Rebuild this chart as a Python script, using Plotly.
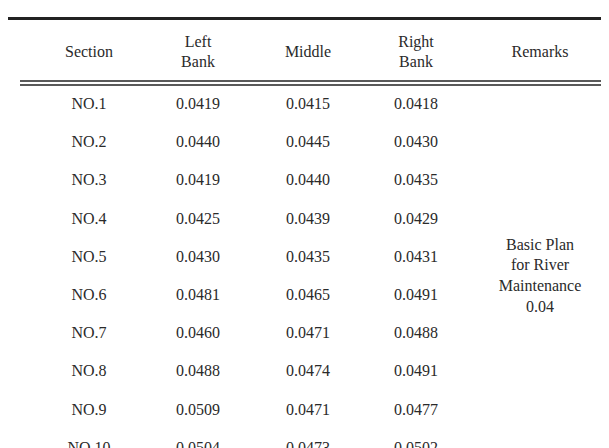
import plotly.graph_objects as go

sections = ["NO.1","NO.2","NO.3","NO.4","NO.5","NO.6","NO.7","NO.8","NO.9","NO.10"]
left_bank = ["0.0419","0.0440","0.0419","0.0425","0.0430","0.0481","0.0460","0.0488","0.0509","0.0504"]
middle = ["0.0415","0.0445","0.0440","0.0439","0.0435","0.0465","0.0471","0.0474","0.0471","0.0473"]
right_bank = ["0.0418","0.0430","0.0435","0.0429","0.0431","0.0491","0.0488","0.0491","0.0477","0.0502"]
headers = ["Section","Left<br>Bank","Middle","Right<br>Bank","Remarks"]
remarks = "Basic Plan<br>for River<br>Maintenance<br>0.04"

col_x = [73, 182, 292, 400, 524]
row_y0, row_dy = 88, 38.2
font = dict(family="Liberation Serif", size=16, color="#2a2a2a")

fig = go.Figure()
fig.add_trace(go.Scatter(x=col_x, y=[36]*5, mode="text", text=headers,
                         textfont=font, hoverinfo="skip"))
ys = [row_y0 + i*row_dy for i in range(len(sections))]
for cx, col in zip(col_x[:4], [sections, left_bank, middle, right_bank]):
    fig.add_trace(go.Scatter(x=[cx]*len(col), y=ys, mode="text", text=col,
                             textfont=font, hoverinfo="skip"))
fig.add_trace(go.Scatter(x=[col_x[4]], y=[(ys[0]+ys[-1])/2], mode="text",
                         text=[remarks], textfont=font, hoverinfo="skip"))

fig.add_shape(type="line", x0=-10, x1=620, y0=1.5, y1=1.5, line=dict(color="#222", width=3))
fig.add_shape(type="line", x0=4, x1=620, y0=64, y1=64, line=dict(color="#222", width=1.5))
fig.add_shape(type="line", x0=4, x1=620, y0=68, y1=68, line=dict(color="#222", width=1.5))

fig.update_layout(width=609, height=448, margin=dict(l=0, r=0, t=0, b=0),
                  plot_bgcolor="white", paper_bgcolor="white", showlegend=False,
                  xaxis=dict(range=[-8, 601], visible=False, fixedrange=True),
                  yaxis=dict(range=[439, -9], visible=False, fixedrange=True))
fig.write_html("out.html")
